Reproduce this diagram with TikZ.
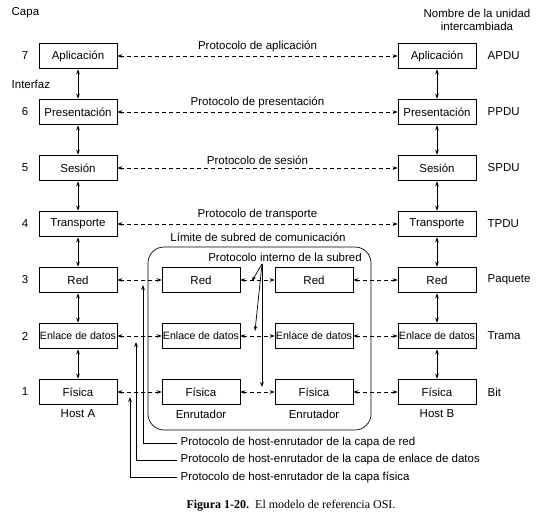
\documentclass[tikz,border=0pt]{standalone}
\usepackage{fontspec}
\setmainfont{Liberation Sans}
\newfontfamily\capfont{Liberation Serif}
\usetikzlibrary{arrows.meta}

\newcommand\enlfont{\fontsize{10.6}{13}\selectfont}

\tikzset{
	layer/.style={draw, minimum width=78pt, minimum height=25pt, inner xsep=0.3pt},
	proto/.style={<->, dash pattern=on 4pt off 3pt},
	iface/.style={<->, shorten >=0.5pt, shorten <=0.5pt},
	unit/.style={anchor=west}
}

\begin{document}
\begin{tikzpicture}[x=1pt, y=-1pt, >={Stealth[length=5pt, width=3.6pt]}, line width=0.7pt, font={\fontsize{11.5}{13.5}\selectfont}]
		\useasboundingbox (0,0) rectangle (557,514);
		
		% capas de los hosts
		\foreach \n/\lbl in {7/Aplicación, 6/Presentación, 5/Sesión, 4/Transporte, 3/Red, 2/\enlfont Enlace de datos, 1/Física} {
			\node[layer] (a\n) at (78, {392-(\n-1)*56}) {\lbl};
			\node[layer] (b\n) at (437, {392-(\n-1)*56}) {\lbl};
			\node (n\n) at (25, {392-(\n-1)*56}) {\n};
		}
		\foreach \n/\lbl in {3/Red, 2/\enlfont Enlace de datos, 1/Física} {
			\node[layer] (r\n) at (201, {392-(\n-1)*56}) {\lbl};
			\node[layer] (s\n) at (314, {392-(\n-1)*56}) {\lbl};
		}
		\foreach \n/\u in {7/APDU, 6/PPDU, 5/SPDU, 4/TPDU, 3/Paquete, 2/Trama, 1/Bit}
			\node[unit] (u\n) at (484, {392-(\n-1)*56}) {\u};
		
		\node[anchor=west] (capa) at (8,13) {Capa};
		\node[anchor=west] (interfaz) at (8,84) {Interfaz};
		\node[align=center] (nombre) at (477,20) {Nombre de la unidad\\intercambiada};
		
		% interfaces
		\foreach \n/\m in {7/6, 6/5, 5/4, 4/3, 3/2, 2/1} {
			\draw[iface] (a\n) -- (a\m);
			\draw[iface] (b\n) -- (b\m);
		}
		
		% protocolos
		\draw[proto] (a7) -- node[above] {Protocolo de aplicación} (b7);
		\draw[proto] (a6) -- node[above] {Protocolo de presentación} (b6);
		\draw[proto] (a5) -- node[above] {Protocolo de sesión} (b5);
		\draw[proto] (a4) -- node[above] {Protocolo de transporte} (b4);
		\foreach \n in {3,2,1} {
			\draw[proto] (a\n) -- (r\n);
			\draw[proto] (r\n) -- (s\n);
			\draw[proto] (s\n) -- (b\n);
		}
		
		% subred
		\draw[rounded corners=16pt] (148,247) rectangle (371,430);
		\node (limite) at (258,237) {Límite de subred de comunicación};
		\node (interno) at (285,257) {Protocolo interno de la subred};
		\coordinate (io) at (262,264);
		\coordinate (i3) at (252,281);
		\coordinate (i2) at (255,331);
		\coordinate (i1) at (262,387);
		\draw[->] (io) -- (i3);
		\draw[->] (io) -- (i2);
		\draw[->] (io) -- (i1);
		
		\node (hostA) at (78,414) {Host A};
		\node (enr1) at (201,414) {Enrutador};
		\node (enr2) at (314,414) {Enrutador};
		\node (hostB) at (437,414) {Host B};
		
		% protocolos host-enrutador
		\node[anchor=west] (hr) at (177,443) {Protocolo de host-enrutador de la capa de red};
		\node[anchor=west] (he) at (177,460) {Protocolo de host-enrutador de la capa de enlace de datos};
		\node[anchor=west] (hf) at (177,477) {Protocolo de host-enrutador de la capa física};
		\coordinate (pr) at (143,285);
		\coordinate (pe) at (136,342);
		\coordinate (pf) at (130,397);
		\draw[->] (hr.west) -| (pr);
		\draw[->] (he.west) -| (pe);
		\draw[->] (hf.west) -| (pf);
		
		\node[font={\capfont\fontsize{12}{14}\selectfont}] (caption) at (291,506) {\textbf{Figura 1-20.}\enspace El modelo de referencia OSI.};
	\end{tikzpicture}
\end{document}
